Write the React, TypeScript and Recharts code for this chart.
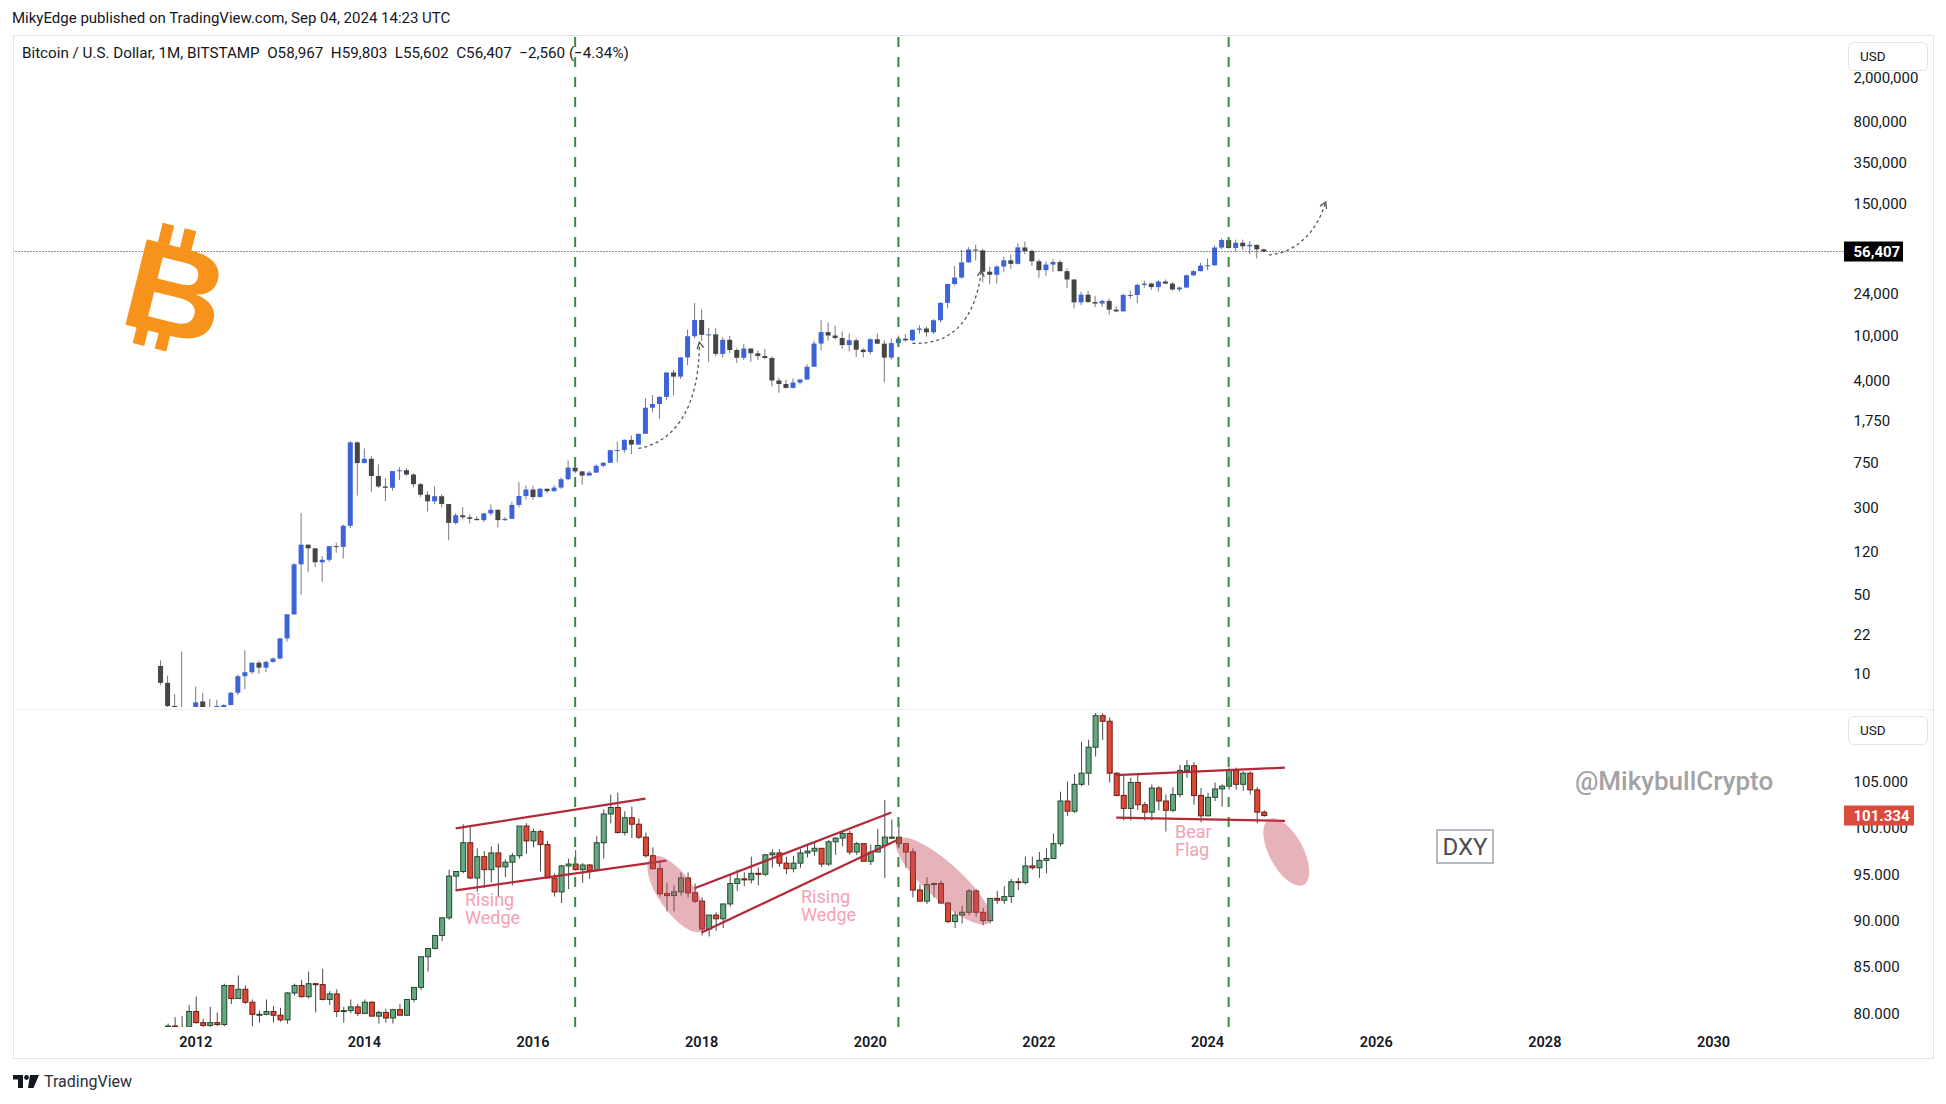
import React from 'react';
import { ComposedChart, Bar, XAxis, YAxis, ReferenceLine, ReferenceDot } from 'recharts';

const FONT = 'Roboto, "Noto Sans", "DejaVu Sans", sans-serif';
const TEXT = '#131722';

// ---------- time axis (monthly categories) ----------
const FIRST_YEAR = 2009;
const FIRST_MONTH = 11; // Nov 2009
const MONTH_COUNT = 261; // through Jul 2031
const YEAR_TICKS = ['2012-01', '2014-01', '2016-01', '2018-01', '2020-01', '2022-01', '2024-01', '2026-01', '2028-01', '2030-01'];
const HALVINGS = ['2016-07', '2020-05', '2024-04'];

// ---------- BTC / USD monthly (Bitstamp) [open, high, low, close], from Aug 2011 ----------
const BTC_START = '2011-08';
const btcCandles: number[][] = [
  [11.6, 13.0, 7.8, 8.2], [8.2, 9.5, 4.6, 5.1], [5.1, 6.5, 2.2, 3.25], [3.25, 15.6, 2.0, 3.0], [3.0, 4.8, 2.9, 4.7],
  [4.7, 7.6, 4.6, 5.5], [5.6, 6.7, 4.3, 4.9], [4.9, 5.9, 4.7, 4.9], [4.9, 5.8, 4.8, 5.0], [5.0, 5.3, 4.9, 5.2], [5.2, 6.8, 5.2, 6.7],
  [6.7, 9.7, 6.4, 9.4], [9.4, 16.0, 7.2, 10.2], [10.2, 12.5, 9.8, 12.4], [12.4, 12.9, 9.9, 11.2], [11.2, 12.9, 10.2, 12.6], [12.6, 13.8, 12.4, 13.5],
  [13.5, 20.4, 13.2, 20.4], [20.4, 33.4, 19.1, 33.4], [33.4, 95, 33, 93], [93, 266, 50, 139], [139, 140, 79, 129], [129, 130, 88, 97],
  [97, 110, 65, 102], [102, 135, 98, 135], [135, 145, 118, 133], [133, 210, 105, 205], [205, 1163, 195, 1130], [1130, 1156, 380, 740],
  [740, 1000, 735, 808], [808, 850, 410, 568], [568, 720, 445, 458], [458, 545, 340, 446], [446, 630, 420, 627], [627, 680, 525, 639],
  [639, 665, 570, 585], [585, 600, 450, 480], [480, 490, 370, 387], [387, 415, 275, 338], [338, 460, 320, 375], [375, 390, 300, 320],
  [320, 320, 152, 217], [217, 265, 210, 254], [254, 300, 232, 244], [244, 259, 215, 236], [236, 248, 228, 230], [230, 267, 221, 264],
  [264, 317, 253, 284], [284, 286, 198, 230], [230, 244, 226, 236], [236, 335, 236, 314], [314, 500, 300, 377], [377, 467, 350, 430],
  [430, 464, 350, 369], [369, 445, 365, 437], [437, 440, 400, 416], [416, 470, 413, 448], [448, 550, 436, 531], [531, 780, 520, 674],
  [674, 704, 600, 624], [624, 625, 475, 573], [573, 630, 570, 608], [608, 720, 604, 700], [700, 755, 680, 744], [744, 975, 740, 964],
  [964, 1150, 750, 965], [965, 1200, 910, 1190], [1190, 1300, 890, 1080], [1080, 1350, 1075, 1348], [1348, 2800, 1340, 2300], [2300, 2980, 2100, 2480],
  [2480, 2900, 1830, 2870], [2870, 4750, 2700, 4730], [4730, 4980, 2970, 4350], [4350, 6470, 4150, 6440], [6440, 11400, 5500, 9950], [9950, 19666, 9500, 13860],
  [13860, 17200, 9050, 10230], [10230, 11780, 5900, 10330], [10330, 11700, 6600, 6930], [6930, 9770, 6430, 9240], [9240, 10000, 7030, 7500], [7500, 7770, 5750, 6390],
  [6390, 8500, 6100, 7730], [7730, 7750, 5880, 7010], [7010, 7410, 6120, 6630], [6630, 7670, 6200, 6370], [6370, 6590, 3550, 4020], [4020, 4250, 3120, 3740],
  [3740, 4080, 3400, 3450], [3450, 4200, 3400, 3850], [3850, 4140, 3700, 4100], [4100, 5600, 4070, 5320], [5320, 9080, 5320, 8560], [8560, 13880, 7450, 10820],
  [10820, 13200, 9070, 10090], [10090, 12320, 9320, 9590], [9590, 10950, 7700, 8300], [8300, 10500, 7300, 9150], [9150, 9500, 6520, 7550], [7550, 7750, 6430, 7190],
  [7190, 9570, 6860, 9350], [9350, 10500, 8450, 8540], [8540, 9190, 3860, 6420], [6420, 9480, 6150, 8630], [8630, 10080, 8110, 9450], [9450, 10380, 8900, 9140],
  [9140, 11450, 8970, 11350], [11350, 12470, 10530, 11650], [11650, 12070, 9880, 10780], [10780, 14100, 10440, 13800], [13800, 19900, 13200, 19700], [19700, 29300, 17600, 28990],
  [28990, 41970, 28130, 33110], [33110, 58350, 32300, 45150], [45150, 61800, 45000, 58800], [58800, 64900, 47000, 57700], [57700, 59600, 30000, 37300], [37300, 41300, 28800, 35040],
  [35040, 42400, 29300, 41500], [41500, 50500, 37300, 47100], [47100, 52900, 39600, 43800], [43800, 67000, 43300, 61300], [61300, 69000, 53300, 57000], [57000, 59100, 42000, 46200],
  [46200, 47900, 32950, 38500], [38500, 45800, 34300, 43200], [43200, 48200, 37200, 45500], [45500, 47400, 37600, 37700], [37700, 40000, 26700, 31800], [31800, 31900, 17600, 19900],
  [19900, 24700, 18800, 23300], [23300, 25200, 19600, 20050], [20050, 22800, 18100, 19430], [19430, 21000, 18200, 20500], [20500, 21500, 15500, 17150], [17150, 18400, 16300, 16540],
  [16540, 23900, 16500, 23130], [23130, 25250, 21400, 23150], [23150, 29200, 19600, 28480], [28480, 31000, 26900, 29250], [29250, 29800, 25800, 27220], [27220, 31400, 24800, 30480],
  [30480, 31800, 28900, 29230], [29230, 30200, 25300, 25940], [25940, 27500, 24900, 26970], [26970, 35200, 26550, 34650], [34650, 38400, 34100, 37720], [37720, 44700, 37600, 42280],
  [42280, 48970, 38500, 42580], [42580, 64000, 41900, 61200], [61200, 73800, 59200, 71330], [71330, 72750, 59600, 60670], [60670, 71980, 56500, 67540], [67540, 72000, 58400, 62750],
  [62750, 70000, 53500, 64620], [64620, 65100, 49000, 58967], [58967, 59803, 55602, 56407],
];

// ---------- DXY monthly [open, high, low, close], from Aug 2011 ----------
const DXY_START = '2011-08';
const dxyCandles: number[][] = [
  [74.0, 75.4, 73.4, 74.2], [74.2, 78.9, 73.8, 78.6], [78.6, 79.6, 75.3, 77.1], [77.1, 79.7, 76.1, 78.3], [78.3, 80.9, 77.8, 80.2],
  [80.2, 81.8, 78.9, 79.0], [79.0, 79.4, 78.1, 78.7], [78.7, 80.7, 78.4, 79.0], [79.0, 80.1, 78.6, 78.8], [78.8, 83.2, 78.6, 83.0], [83.0, 83.0, 81.0, 81.6],
  [81.6, 84.1, 81.6, 82.6], [82.6, 83.0, 81.0, 81.2], [81.2, 81.5, 78.6, 79.9], [79.9, 80.3, 79.0, 79.9], [79.9, 81.5, 79.8, 80.2], [80.2, 80.8, 79.0, 79.8],
  [79.8, 80.6, 79.1, 79.3], [79.3, 82.3, 78.9, 82.2], [82.2, 83.2, 81.9, 83.0], [83.0, 83.6, 81.7, 81.8], [81.8, 84.5, 81.6, 83.2], [83.2, 83.3, 80.1, 83.1],
  [83.1, 84.8, 81.4, 81.5], [81.5, 82.4, 80.9, 82.1], [82.1, 82.6, 79.6, 80.2], [80.2, 80.7, 79.0, 80.3], [80.3, 81.5, 80.0, 80.7], [80.7, 81.0, 79.7, 80.0],
  [80.0, 81.5, 80.0, 81.2], [81.2, 81.3, 79.7, 79.7], [79.7, 80.3, 78.9, 80.1], [80.1, 80.5, 79.0, 79.5], [79.5, 80.5, 78.9, 80.4], [80.4, 81.0, 79.8, 79.8],
  [79.8, 81.5, 79.7, 81.5], [81.5, 82.8, 81.2, 82.8], [82.8, 86.1, 82.5, 86.1], [86.1, 87.0, 84.5, 87.0], [87.0, 88.4, 86.9, 88.4], [88.4, 90.4, 87.8, 90.3],
  [90.3, 95.5, 90.1, 94.8], [94.8, 95.3, 93.2, 95.3], [95.3, 100.4, 95.1, 98.4], [98.4, 100.2, 94.5, 94.6], [94.6, 97.8, 93.1, 96.9], [96.9, 97.5, 93.5, 95.5],
  [95.5, 98.0, 94.1, 97.3], [97.3, 98.3, 92.6, 95.8], [95.8, 96.6, 94.7, 96.3], [96.3, 97.3, 93.8, 97.0], [97.0, 100.2, 96.7, 100.2], [100.2, 100.5, 97.2, 98.6],
  [98.6, 99.9, 97.9, 99.6], [99.6, 99.8, 95.3, 98.2], [98.2, 98.6, 94.6, 94.6], [94.6, 95.1, 92.6, 93.1], [93.1, 96.0, 91.9, 95.9], [95.9, 96.7, 93.4, 96.1],
  [96.1, 97.6, 95.4, 95.5], [95.5, 96.2, 94.1, 96.0], [96.0, 96.1, 94.5, 95.4], [95.4, 99.1, 95.4, 98.4], [98.4, 102.0, 96.7, 101.5], [101.5, 103.6, 100.5, 102.2],
  [102.2, 103.8, 99.4, 99.5], [99.5, 101.8, 99.2, 101.1], [101.1, 102.3, 98.9, 100.4], [100.4, 101.0, 98.8, 99.0], [99.0, 99.5, 96.8, 97.0], [97.0, 97.9, 95.5, 95.6],
  [95.6, 96.3, 92.6, 92.9], [92.9, 94.1, 91.0, 92.7], [92.7, 93.8, 91.0, 93.1], [93.1, 95.2, 92.7, 94.6], [94.6, 95.2, 92.5, 93.0], [93.0, 94.0, 91.9, 92.1],
  [92.1, 92.5, 88.4, 89.1], [89.1, 90.6, 88.3, 90.6], [90.6, 90.9, 88.9, 90.2], [90.2, 91.8, 89.2, 91.8], [91.8, 95.0, 91.5, 94.0], [94.0, 95.5, 93.2, 94.5],
  [94.5, 95.2, 93.7, 94.4], [94.4, 96.9, 94.0, 95.1], [95.1, 95.7, 93.8, 95.0], [95.0, 97.2, 94.8, 97.1], [97.1, 97.7, 95.7, 97.3], [97.3, 97.7, 95.8, 96.2],
  [96.2, 96.9, 95.0, 95.6], [95.6, 97.0, 95.2, 96.2], [96.2, 97.7, 95.7, 97.3], [97.3, 98.3, 96.8, 97.5], [97.5, 98.4, 97.0, 97.8], [97.8, 97.8, 95.8, 96.1],
  [96.1, 98.7, 95.9, 98.5], [98.5, 99.0, 97.1, 98.9], [98.9, 99.7, 98.0, 99.4], [99.4, 99.7, 97.1, 97.4], [97.4, 98.5, 97.1, 98.3], [98.3, 98.3, 96.4, 96.4],
  [96.4, 98.2, 96.0, 97.4], [97.4, 99.9, 97.4, 98.1], [98.1, 103.0, 94.6, 99.0], [99.0, 100.9, 98.8, 99.0], [99.0, 100.6, 97.8, 98.3], [98.3, 98.3, 95.7, 97.4],
  [97.4, 97.8, 92.5, 93.3], [93.3, 93.9, 92.1, 92.1], [92.1, 94.7, 91.8, 93.9], [93.9, 94.1, 92.5, 94.0], [94.0, 94.3, 91.8, 91.9], [91.9, 92.0, 89.7, 89.9],
  [89.9, 91.0, 89.2, 90.6], [90.6, 91.6, 89.7, 90.9], [90.9, 93.4, 90.6, 93.2], [93.2, 93.4, 90.4, 90.9], [90.9, 91.4, 89.5, 90.0], [90.0, 92.4, 89.7, 92.4],
  [92.4, 93.2, 91.8, 92.2], [92.2, 93.7, 91.8, 92.6], [92.6, 94.5, 91.9, 94.2], [94.2, 94.6, 93.3, 94.1], [94.1, 96.9, 93.9, 95.9], [95.9, 96.9, 95.5, 95.7],
  [95.7, 97.4, 94.6, 96.5], [96.5, 97.8, 95.1, 96.7], [96.7, 99.4, 96.7, 98.3], [98.3, 103.9, 98.0, 102.9], [102.9, 105.0, 101.3, 101.8], [101.8, 105.8, 101.6, 104.7],
  [104.7, 109.3, 104.5, 105.9], [105.9, 109.5, 104.6, 108.7], [108.7, 114.8, 107.7, 112.1], [112.1, 113.9, 109.5, 111.5], [111.5, 111.9, 104.9, 105.9], [105.9, 106.0, 103.4, 103.5],
  [103.5, 105.6, 100.8, 102.1], [102.1, 105.4, 100.8, 104.9], [104.9, 105.9, 101.9, 102.5], [102.5, 102.8, 100.8, 101.7], [101.7, 104.7, 100.8, 104.3], [104.3, 104.5, 101.9, 102.9],
  [102.9, 103.6, 99.6, 101.9], [101.9, 104.4, 101.7, 103.6], [103.6, 106.8, 103.3, 106.2], [106.2, 107.3, 105.4, 106.7], [106.7, 107.1, 102.5, 103.5], [103.5, 104.3, 100.6, 101.3],
  [101.3, 103.8, 101.3, 103.3], [103.3, 104.9, 102.9, 104.2], [104.2, 104.7, 102.3, 104.5], [104.5, 106.5, 104.1, 106.2], [106.2, 106.5, 104.1, 104.7], [104.7, 106.1, 104.0, 105.9],
  [105.9, 106.1, 103.6, 104.1], [104.1, 104.4, 100.5, 101.7], [101.7, 101.9, 101.2, 101.334],
];

// ---------- axis ticks ----------
const BTC_LAST = 56407;
const DXY_LAST = 101.334;
const BTC_TICKS = [10, 22, 50, 120, 300, 750, 1750, 4000, 10000, 24000, 150000, 350000, 800000, 2000000, BTC_LAST];
const DXY_TICKS = [80, 85, 90, 95, 100, 105, DXY_LAST];
const BTC_DOMAIN: [number, number] = [5.0, 4760000];
const DXY_DOMAIN: [number, number] = [78.53, 112.39];

// ---------- annotations (data coordinates) ----------
const WEDGES = [
  [{ x: '2015-02', y: 99.95 }, { x: '2017-05', y: 103.15 }],
  [{ x: '2015-02', y: 93.27 }, { x: '2017-08', y: 96.47 }],
  [{ x: '2017-12', y: 93.5 }, { x: '2020-04', y: 101.65 }],
  [{ x: '2018-01', y: 88.72 }, { x: '2020-05', y: 98.74 }],
  [{ x: '2022-12', y: 105.7 }, { x: '2024-12', y: 106.5 }],
  [{ x: '2022-12', y: 101.1 }, { x: '2024-12', y: 100.75 }],
];
const ELLIPSES = [
  { x: '2017-09', dx: 3.5, y: 92.87, rx: 45, ry: 18, rot: 55 },
  { x: '2020-11', dx: 2.8, y: 94.27, rx: 62, ry: 18, rot: 42 },
  { x: '2024-12', dx: 1.4, y: 97.4, rx: 37, ry: 17, rot: 62 },
];
const ARROWS = [
  { x: '2017-04', y: 1000, d: 'M0,0 C36,-6 61,-40 61,-106', tip: [61, -106], from: [64, -90] },
  { x: '2020-07', y: 8610, d: 'M0,0 C40,2 63,-24 69,-73', tip: [69, -73], from: [67, -54] },
  { x: '2024-09', y: 52550, d: 'M5,0 C30,-2 52,-20 62,-53', tip: [62, -53], from: [55, -37] },
];

// ---------- helpers ----------
function monthKeys(): string[] {
  const out: string[] = [];
  for (let i = 0; i < MONTH_COUNT; i++) {
    const t = FIRST_MONTH - 1 + i;
    const y = FIRST_YEAR + Math.floor(t / 12);
    const m = (t % 12) + 1;
    out.push(`${y}-${m < 10 ? '0' : ''}${m}`);
  }
  return out;
}
function buildRows(start: string, candles: number[][]) {
  const keys = monthKeys();
  const s = keys.indexOf(start);
  return keys.map((key, i) => {
    const d = candles[i - s];
    if (!d) return { key };
    const [o, h, l, c] = d;
    return { key, range: [l, h], o, h, l, c };
  });
}
const btcRows = buildRows(BTC_START, btcCandles);
const dxyRows = buildRows(DXY_START, dxyCandles);

function makeCandle(log: boolean, st: { up: string; down: string; upStroke?: string; downStroke?: string; wick: string }) {
  return (props: any) => {
    const { x, y, width, height, payload, background } = props;
    if (!payload || payload.o === undefined || !Number.isFinite(y) || !Number.isFinite(height)) return <g />;
    const { o, h, l, c } = payload;
    const f = log ? Math.log10 : (v: number) => v;
    const yHi = y;
    const yLo = y + height;
    const span = f(h) - f(l);
    const py = (v: number) => (span === 0 ? yHi : yHi + ((f(h) - f(v)) / span) * (yLo - yHi));
    const top = background && Number.isFinite(background.y) ? background.y : -1e6;
    const bottom = background && Number.isFinite(background.height) ? background.y + background.height : 1e6;
    const cl = (v: number) => Math.max(top, Math.min(bottom, v));
    const cx = x + width / 2;
    const wt = cl(Math.min(yHi, yLo));
    const wb = cl(Math.max(yHi, yLo));
    const bt0 = Math.min(py(o), py(c));
    const bb0 = Math.max(py(o), py(c));
    const up = c >= o;
    const bodyVisible = bb0 >= top && bt0 <= bottom;
    let bt = cl(bt0);
    let bb = cl(bb0);
    if (bb - bt < 1) {
      bb = Math.min(bottom, bt + 1);
      if (bb - bt < 1) bt = bb - 1;
    }
    const stroke = up ? st.upStroke : st.downStroke;
    return (
      <g>
        {wb > wt && <line x1={cx} x2={cx} y1={wt} y2={wb} stroke={st.wick} strokeWidth={1} />}
        {bodyVisible &&
          (stroke ? (
            <rect x={x + 0.5} y={bt} width={width - 1} height={Math.max(1, bb - bt)} fill={up ? st.up : st.down} stroke={stroke} strokeWidth={1} />
          ) : (
            <rect x={x} y={bt} width={width} height={Math.max(1, bb - bt)} fill={up ? st.up : st.down} />
          ))}
      </g>
    );
  };
}
const BtcCandle = makeCandle(true, { up: '#3d63d8', down: '#454545', wick: '#7a7a7a' });
const DxyCandle = makeCandle(false, { up: '#66a77f', down: '#dc4a37', upStroke: '#1f4b31', downStroke: '#6f1c12', wick: '#4a4a4a' });

const BtcTick = (props: any) => {
  const { x, y, payload } = props;
  const v = payload.value as number;
  const label = v.toLocaleString('en-US');
  if (v === BTC_LAST) {
    return (
      <g>
        <rect x={x - 9.5} y={y - 10} width={59} height={20} fill="#000" />
        <text x={x} y={y} dy="0.36em" fill="#fff" fontSize={15} fontWeight={700} fontFamily={FONT}>{label}</text>
      </g>
    );
  }
  return <text x={x} y={y} dy="0.36em" fill={TEXT} fontSize={15} fontFamily={FONT}>{label}</text>;
};
const DxyTick = (props: any) => {
  const { x, y, payload } = props;
  const v = payload.value as number;
  const label = v.toFixed(3);
  if (v === DXY_LAST) {
    return (
      <g>
        <rect x={x - 9.5} y={y - 10} width={70} height={20} fill="#dc4a3c" />
        <text x={x} y={y} dy="0.36em" fill="#fff" fontSize={15} fontWeight={700} fontFamily={FONT}>{label}</text>
      </g>
    );
  }
  return <text x={x} y={y} dy="0.36em" fill={TEXT} fontSize={15} fontFamily={FONT}>{label}</text>;
};

function arrowHead(tip: number[], from: number[], len = 7, ang = 30) {
  const dx = tip[0] - from[0];
  const dy = tip[1] - from[1];
  const L = Math.hypot(dx, dy) || 1;
  const bx = -dx / L;
  const by = -dy / L;
  const a = (ang * Math.PI) / 180;
  const r = (t: number) => [bx * Math.cos(t) - by * Math.sin(t), bx * Math.sin(t) + by * Math.cos(t)];
  const [x1, y1] = r(a);
  const [x2, y2] = r(-a);
  return `M${tip[0] + x1 * len},${tip[1] + y1 * len} L${tip[0]},${tip[1]} L${tip[0] + x2 * len},${tip[1] + y2 * len}`;
}

const GREEN = '#3b8a40';
const TREND = '#b3293a';
const CHART_W = 1946;
const PLOT_LEFT = 9.5;
const AXIS_W = 90;
const RIGHT_M = 12.5; // plot right edge at 1843.5
const FRAME_R = 1933;

const absText = (left: number, top: number, size: number, color: string, extra: React.CSSProperties = {}) => ({
  position: 'absolute' as const, left, top, fontSize: size, color, fontFamily: FONT, lineHeight: 1, whiteSpace: 'pre' as const, ...extra,
});

const usdBox = (top: number): React.CSSProperties => ({
  position: 'absolute', left: 1848, top, width: 80, height: 29, boxSizing: 'border-box', border: '1px solid #e0e3eb', borderRadius: 6,
  background: '#fff', fontSize: 13.5, color: TEXT, fontFamily: FONT, lineHeight: '27px', paddingLeft: 11,
});

export default function App() {
  return (
    <div style={{ position: 'absolute', left: 0, top: 0, width: 1946, height: 1104, background: '#fff', fontFamily: FONT, overflow: 'hidden' }}>
      {/* header */}
      <div style={absText(12, 11, 15, TEXT)}>MikyEdge published on TradingView.com, Sep 04, 2024 14:23 UTC</div>

      {/* top pane: BTC */}
      <div style={{ position: 'absolute', left: 13, top: 0, width: FRAME_R - 13, height: 707, overflow: 'hidden' }}>
        <div style={{ position: 'absolute', left: -13, top: 0 }}>
          <ComposedChart width={CHART_W} height={712} data={btcRows} margin={{ top: 35, right: RIGHT_M, bottom: 5, left: PLOT_LEFT }}>
            <XAxis dataKey="key" type="category" hide />
            <YAxis
              orientation="right"
              type="number"
              scale="log"
              domain={BTC_DOMAIN}
              allowDataOverflow
              ticks={BTC_TICKS}
              interval={0}
              width={AXIS_W}
              tickSize={0}
              tickMargin={10}
              axisLine={false}
              tickLine={false}
              tick={<BtcTick />}
            />
            <Bar dataKey="range" barSize={5} shape={BtcCandle} isAnimationActive={false} />
            {HALVINGS.map((k) => (
              <ReferenceLine key={k} x={k} stroke={GREEN} strokeWidth={2} strokeDasharray="10 10" />
            ))}
            <ReferenceLine y={BTC_LAST} stroke="#1a1a1a" strokeWidth={1} strokeDasharray="1 2" />
            {ARROWS.map((a, i) => (
              <ReferenceDot
                key={i}
                x={a.x}
                y={a.y}
                r={1}
                ifOverflow="visible"
                shape={(p: any) =>
                  Number.isFinite(p.cx) ? (
                    <g transform={`translate(${p.cx},${p.cy})`}>
                      <path d={a.d} fill="none" stroke="#555" strokeWidth={1.3} strokeDasharray="3 3" />
                      <path d={arrowHead(a.tip, a.from)} fill="none" stroke="#555" strokeWidth={1.3} />
                    </g>
                  ) : (
                    <g />
                  )
                }
              />
            ))}
          </ComposedChart>
        </div>
      </div>

      {/* bottom pane: DXY */}
      <div style={{ position: 'absolute', left: 13, top: 700, width: FRAME_R - 13, height: 358, overflow: 'hidden' }}>
        <div style={{ position: 'absolute', left: -13, top: 0 }}>
          <ComposedChart width={CHART_W} height={362} data={dxyRows} margin={{ top: 13, right: RIGHT_M, bottom: 4, left: PLOT_LEFT }}>
            <XAxis
              dataKey="key"
              type="category"
              ticks={YEAR_TICKS}
              interval={0}
              height={31}
              tickSize={0}
              tickMargin={10}
              axisLine={false}
              tickLine={false}
              tickFormatter={(k: string) => k.slice(0, 4)}
              tick={{ fill: TEXT, fontSize: 14.5, fontWeight: 600, fontFamily: FONT }}
            />
            <YAxis
              orientation="right"
              type="number"
              domain={DXY_DOMAIN}
              allowDataOverflow
              ticks={DXY_TICKS}
              interval={0}
              width={AXIS_W}
              tickSize={0}
              tickMargin={10}
              axisLine={false}
              tickLine={false}
              tick={<DxyTick />}
            />
            <Bar dataKey="range" barSize={6} shape={DxyCandle} isAnimationActive={false} />
            {HALVINGS.map((k) => (
              <ReferenceLine key={k} x={k} stroke={GREEN} strokeWidth={2} strokeDasharray="10 10" />
            ))}
            {ELLIPSES.map((e, i) => (
              <ReferenceDot
                key={'e' + i}
                x={e.x}
                y={e.y}
                r={1}
                ifOverflow="visible"
                shape={(p: any) =>
                  Number.isFinite(p.cx) ? (
                    <ellipse cx={p.cx + e.dx} cy={p.cy} rx={e.rx} ry={e.ry} transform={`rotate(${e.rot} ${p.cx + e.dx} ${p.cy})`} fill="rgba(196,74,92,0.42)" />
                  ) : (
                    <g />
                  )
                }
              />
            ))}
            {WEDGES.map((s, i) => (
              <ReferenceLine key={'w' + i} segment={s} stroke={TREND} strokeWidth={2.2} ifOverflow="visible" />
            ))}
          </ComposedChart>
        </div>
      </div>

      {/* frame, separator, legend */}
      <div style={{ position: 'absolute', left: 12.5, top: 34.5, width: FRAME_R - 12, height: 1024.5, boxSizing: 'border-box', border: '1px solid #e0e3eb', pointerEvents: 'none' }} />
      <div style={{ position: 'absolute', left: 13, top: 709, width: FRAME_R - 13, height: 1, background: '#eceef3' }} />
      <div style={absText(22, 46, 15.2, TEXT)}>
        {'Bitcoin / U.S. Dollar, 1M, BITSTAMP  O58,967  H59,803  L55,602  C56,407  −2,560 (−4.34%)'}
      </div>

      {/* USD buttons */}
      <div style={usdBox(42)}>USD</div>
      <div style={usdBox(716)}>USD</div>

      {/* Bitcoin logo */}
      <svg style={{ position: 'absolute', left: 0, top: 0 }} width={320} height={420}>
        <g transform="translate(176,290) rotate(14) scale(1.08,1)" fill="#f7931a">
          <rect x={-27} y={-62} width={11} height={20} />
          <rect x={-6} y={-62} width={11} height={20} />
          <rect x={-27} y={42} width={11} height={20} />
          <rect x={-6} y={42} width={11} height={20} />
          <text x={0} y={46} textAnchor="middle" fontSize={128} fontWeight={700} fontFamily='"Liberation Sans", Arial, sans-serif'>B</text>
        </g>
      </svg>

      {/* text annotations */}
      <div style={absText(465, 891, 18, '#f4a1b3', { lineHeight: '17.5px' })}>{'Rising\nWedge'}</div>
      <div style={absText(801, 888, 18, '#f4a1b3', { lineHeight: '17.5px' })}>{'Rising\nWedge'}</div>
      <div style={absText(1175, 823, 18, '#f4a1b3', { lineHeight: '17.5px' })}>{'Bear\nFlag'}</div>
      <div style={absText(1575, 768, 26, '#a3a3a3', { fontWeight: 500 })}>@MikybullCrypto</div>
      <div style={{ position: 'absolute', left: 1436, top: 829, width: 58, height: 35, boxSizing: 'border-box', border: '2px solid #b3b9c0', background: '#fff', fontSize: 24, color: '#4a4e57', fontFamily: FONT, display: 'flex', alignItems: 'center', justifyContent: 'center' }}>DXY</div>

      {/* footer */}
      <svg style={{ position: 'absolute', left: 13, top: 1075 }} width={28} height={14}>
        <path d="M0,0 H10 V13 H5 V4.5 H0 Z" fill="#131722" />
        <circle cx={13.5} cy={2.5} r={2.4} fill="#131722" />
        <path d="M17,0 H26 L20.5,13 H15 Z" fill="#131722" />
      </svg>
      <div style={absText(44, 1074, 16, '#2a2e39')}>TradingView</div>
    </div>
  );
}
